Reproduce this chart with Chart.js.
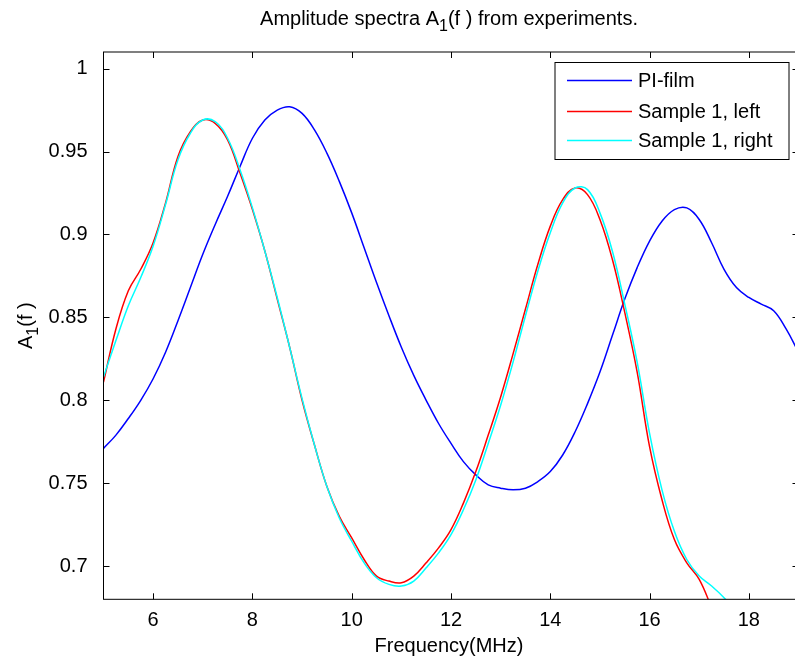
<!DOCTYPE html>
<html>
<head>
<meta charset="utf-8">
<script src="https://cdn.jsdelivr.net/npm/chart.js@4/dist/chart.umd.min.js"></script>
<style>
  body { margin: 0; overflow: hidden; background: #fff; }
  #caixa { width: 800px; height: 663px; }
</style>
</head>
<body>
<div id="caixa"><canvas id="grafico" width="800" height="663"></canvas></div>
<script>
const frequencias = [5, 5.25, 5.5, 5.75, 6, 6.25, 6.5, 6.75, 7, 7.25, 7.5, 7.75, 8, 8.25, 8.5, 8.75,
  9, 9.25, 9.5, 9.75, 10, 10.25, 10.5, 10.75, 11, 11.25, 11.5, 11.75, 12, 12.25, 12.5, 12.75,
  13, 13.25, 13.5, 13.75, 14, 14.25, 14.5, 14.75, 15, 15.25, 15.5, 15.75, 16, 16.25, 16.5, 16.75,
  17, 17.25, 17.5, 17.75, 18, 18.25, 18.5, 18.75, 19];

const piFilm = [0.771, 0.779, 0.789, 0.800, 0.813, 0.829, 0.848, 0.868, 0.888, 0.906, 0.923, 0.941, 0.958, 0.969, 0.975, 0.977,
  0.973, 0.963, 0.949, 0.932, 0.913, 0.892, 0.871, 0.851, 0.832, 0.815, 0.800, 0.786, 0.774, 0.763, 0.755, 0.749,
  0.747, 0.746, 0.747, 0.751, 0.757, 0.767, 0.781, 0.798, 0.817, 0.839, 0.861, 0.880, 0.896, 0.908, 0.915, 0.916,
  0.909, 0.895, 0.879, 0.868, 0.862, 0.858, 0.854, 0.843, 0.829];

const amostraEsquerda = [0.811, 0.843, 0.866, 0.879, 0.895, 0.919, 0.947, 0.962, 0.969, 0.967, 0.957, 0.937, 0.915, 0.890, 0.861, 0.832,
  0.800, 0.773, 0.748, 0.730, 0.717, 0.704, 0.694, 0.691, 0.690, 0.694, 0.702, 0.711, 0.722, 0.738, 0.757, 0.779,
  0.802, 0.828, 0.855, 0.882, 0.905, 0.921, 0.928, 0.924, 0.909, 0.885, 0.853, 0.817, 0.772, 0.740, 0.716, 0.702,
  0.692, 0.675, null, null, null, null, null, null, null];

const amostraDireita = [0.814, 0.836, 0.857, 0.874, 0.893, 0.918, 0.945, 0.961, 0.969, 0.968, 0.958, 0.939, 0.916, 0.890, 0.862, 0.832,
  0.801, 0.773, 0.748, 0.729, 0.715, 0.702, 0.693, 0.689, 0.688, 0.691, 0.699, 0.708, 0.719, 0.734, 0.752, 0.774,
  0.797, 0.823, 0.851, 0.878, 0.901, 0.919, 0.928, 0.927, 0.913, 0.890, 0.858, 0.823, 0.780, 0.746, 0.721, 0.704,
  0.694, 0.688, 0.681, 0.672, null, null, null, null, null];

const ticksX = [6, 8, 10, 12, 14, 16, 18];
const ticksY = [0.7, 0.75, 0.8, 0.85, 0.9, 0.95, 1];

const FONTE = '20px "Liberation Sans", Arial, sans-serif';
const FONTE_INDICE = '16px "Liberation Sans", Arial, sans-serif';

function pontos(serie) {
  return frequencias.map((f, i) => ({ x: f, y: serie[i] }));
}

// texto com um "1" subscrito no meio, ex: A_1(f)
function textoIndice(ctx, antes, indice, depois, x, y) {
  ctx.font = FONTE;
  var w1 = ctx.measureText(antes).width;
  var w3 = ctx.measureText(depois).width;
  ctx.font = FONTE_INDICE;
  var w2 = ctx.measureText(indice).width;
  var inicio = x - (w1 + w2 + w3) / 2;
  ctx.textAlign = 'left';
  ctx.textBaseline = 'alphabetic';
  ctx.font = FONTE;
  ctx.fillText(antes, inicio, y);
  ctx.font = FONTE_INDICE;
  ctx.fillText(indice, inicio + w1, y + 6);
  ctx.font = FONTE;
  ctx.fillText(depois, inicio + w1 + w2, y);
}

const eixosMatlab = {
  id: 'eixosMatlab',
  afterDraw(chart) {
    const ctx = chart.ctx;
    const area = chart.chartArea;
    const sx = chart.scales.x;
    const sy = chart.scales.y;
    ctx.save();
    ctx.strokeStyle = '#000';
    ctx.lineWidth = 1;
    ctx.strokeRect(area.left, area.top, area.right - area.left, area.bottom - area.top);

    ctx.beginPath();
    ticksX.forEach(function (v) {
      var px = Math.round(sx.getPixelForValue(v)) + 0.5;
      ctx.moveTo(px, area.bottom); ctx.lineTo(px, area.bottom - 6);
      ctx.moveTo(px, area.top); ctx.lineTo(px, area.top + 6);
    });
    ticksY.forEach(function (v) {
      var py = Math.round(sy.getPixelForValue(v)) + 0.5;
      ctx.moveTo(area.left, py); ctx.lineTo(area.left + 6, py);
      ctx.moveTo(area.right, py); ctx.lineTo(area.right - 6, py);
    });
    ctx.stroke();

    ctx.fillStyle = '#000';
    var meio = (area.left + area.right) / 2 - 2;
    textoIndice(ctx, 'Amplitude spectra A', '1', '(f ) from experiments.', meio, 25);

    ctx.font = FONTE;
    ctx.textAlign = 'center';
    ctx.textBaseline = 'alphabetic';
    ctx.fillText('Frequency(MHz)', meio, 652);

    ctx.save();
    ctx.translate(32, (area.top + area.bottom) / 2);
    ctx.rotate(-Math.PI / 2);
    textoIndice(ctx, 'A', '1', '(f )', 0, 0);
    ctx.restore();

    // legenda
    var lx = area.right - 243.5, ly = area.top + 10.5, lw = 234, lh = 97;
    ctx.fillStyle = '#fff';
    ctx.fillRect(lx, ly, lw, lh);
    ctx.strokeStyle = '#000';
    ctx.strokeRect(lx, ly, lw, lh);
    var linhas = [18, 49, 78];
    chart.data.datasets.forEach(function (ds, i) {
      var yy = ly + linhas[i];
      ctx.strokeStyle = ds.borderColor;
      ctx.lineWidth = 1.5;
      ctx.beginPath();
      ctx.moveTo(lx + 12, yy); ctx.lineTo(lx + 77, yy);
      ctx.stroke();
      ctx.fillStyle = '#000';
      ctx.font = FONTE;
      ctx.textAlign = 'left';
      ctx.textBaseline = 'middle';
      ctx.fillText(ds.label, lx + 83, yy + 1);
    });
    ctx.restore();
  }
};

new Chart(document.getElementById('grafico'), {
  type: 'line',
  data: {
    datasets: [
      { label: 'PI-film', data: pontos(piFilm), borderColor: '#0000ff', order: 3 },
      { label: 'Sample 1, left', data: pontos(amostraEsquerda), borderColor: '#ff0000', order: 2 },
      { label: 'Sample 1, right', data: pontos(amostraDireita), borderColor: '#00ffff', order: 1 }
    ]
  },
  options: {
    responsive: false,
    animation: false,
    layout: { padding: { top: 52, right: 1.5, left: 0, bottom: 0 } },
    elements: {
      point: { radius: 0 },
      line: { borderWidth: 1.5, tension: 0.4, fill: false }
    },
    plugins: {
      legend: { display: false },
      title: { display: false },
      tooltip: { enabled: false }
    },
    scales: {
      x: {
        type: 'linear',
        min: 5,
        max: 19,
        afterFit: function (s) { s.height = 63.7; },
        afterBuildTicks: function (s) { s.ticks = ticksX.map(v => ({ value: v })); },
        grid: { display: false },
        border: { display: false },
        ticks: { font: { family: '"Liberation Sans", Arial', size: 20 }, color: '#000', padding: 1, maxRotation: 0, autoSkip: false }
      },
      y: {
        type: 'linear',
        min: 0.68,
        max: 1.01,
        afterFit: function (s) { s.width = 103.5; },
        afterBuildTicks: function (s) { s.ticks = ticksY.map(v => ({ value: v })); },
        grid: { display: false },
        border: { display: false },
        ticks: {
          font: { family: '"Liberation Sans", Arial', size: 20 }, color: '#000', padding: 8, autoSkip: false,
          callback: function (v) { return String(+v.toFixed(2)); }
        }
      }
    }
  },
  plugins: [eixosMatlab]
});
</script>
</body>
</html>
